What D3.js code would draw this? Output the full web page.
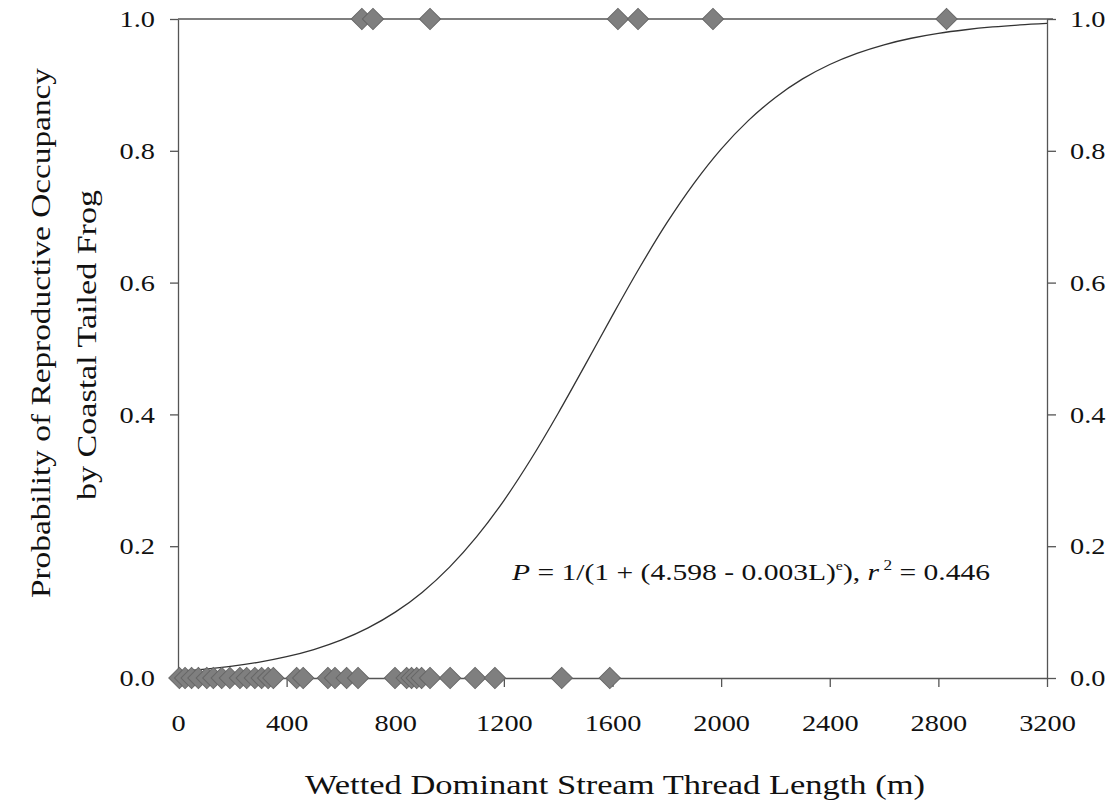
<!DOCTYPE html>
<html><head><meta charset="utf-8">
<script src="https://cdn.jsdelivr.net/npm/d3@7"></script>
<style>body{margin:0;background:#fff}svg{display:block}text{font-family:"Liberation Serif","DejaVu Serif",serif;fill:#111}</style>
</head><body><svg id="c" width="1118" height="805"></svg>
<script>
// Observed occupancy (1) sites, stream length in m
const presentL = [677, 718, 928, 1620, 1694, 1970, 2830];
// Observed non-occupancy (0) sites
const absentL = [5, 26, 50, 75, 106, 130, 161, 191, 228, 253, 283, 308, 332, 351, 437, 461, 552, 578, 621, 663, 799, 842, 860, 879, 897, 928, 1002, 1094, 1167, 1413, 1590];
// Fitted curve
const curveL = [0,100,200,300,400,500,600,700,800,900,1000,1100,1200,1300,1400,1500,1600,1700,1800,1900,2000,2100,2200,2300,2400,2500,2600,2700,2800,2900,3000,3100,3200];
const curveP = [0.010,0.0134,0.018,0.0242,0.0324,0.0432,0.0574,0.076,0.0999,0.1303,0.1683,0.2145,0.2693,0.3323,0.4018,0.4755,0.5503,0.6229,0.6905,0.7506,0.8026,0.8458,0.881,0.9091,0.931,0.9479,0.9609,0.9708,0.9782,0.9837,0.9879,0.991,0.9933];
const xTicks = [0,400,800,1200,1600,2000,2400,2800,3200];
const yTicks = [0,0.2,0.4,0.6,0.8,1.0];

const svg = d3.select("#c");
const L = 178, R = 1047, T = 19, B = 678;
const x = d3.scaleLinear().domain([0,3200]).range([L,R]);
const y = d3.scaleLinear().domain([0,1]).range([B,T]);
const axisCol = "#555";

function stretch(sel, f){
  sel.each(function(){
    const w = this.getComputedTextLength();
    d3.select(this).attr("textLength", w*f).attr("lengthAdjust","spacingAndGlyphs");
  });
}
function styleAxis(g){
  g.select(".domain").attr("stroke",axisCol).attr("stroke-width",1.3);
  g.selectAll(".tick line").attr("stroke",axisCol).attr("stroke-width",1.3);
  g.selectAll(".tick text").style("font-size","24px").attr("fill","#111");
  stretch(g.selectAll(".tick text"), 1.18);
}
// top line
svg.append("line").attr("x1",L).attr("x2",R+6).attr("y1",T).attr("y2",T).attr("stroke",axisCol).attr("stroke-width",1.3);

svg.append("g").attr("transform",`translate(0,${B})`)
  .call(d3.axisBottom(x).tickValues(xTicks).tickFormat(d3.format("d")).tickSize(9).tickSizeOuter(0).tickPadding(27))
  .call(styleAxis);
svg.append("g").attr("transform",`translate(${L},0)`)
  .call(d3.axisLeft(y).tickValues(yTicks).tickFormat(d3.format(".1f")).tickSize(8).tickSizeOuter(0).tickPadding(15))
  .call(styleAxis);
svg.append("g").attr("transform",`translate(${R},0)`)
  .call(d3.axisRight(y).tickValues(yTicks).tickFormat(d3.format(".1f")).tickSize(9).tickSizeOuter(0).tickPadding(14))
  .call(styleAxis);

// curve
const pts = curveL.map((l,i)=>[l,curveP[i]]);
svg.append("path").datum(pts)
  .attr("d", d3.line().x(d=>x(d[0])).y(d=>y(d[1])).curve(d3.curveMonotoneX))
  .attr("fill","none").attr("stroke","#333").attr("stroke-width",1.3);

// markers
const sym = d3.symbol().type(d3.symbolSquare).size(225)();
function markers(data, val){
  svg.append("g").selectAll("path").data(data).join("path")
    .attr("d", sym)
    .attr("transform", d=>`translate(${x(d)},${y(val)}) rotate(45)`)
    .attr("fill","#7f7f7f").attr("stroke","#666").attr("stroke-width",1);
}
markers(absentL, 0);
markers(presentL, 1);

// equation
const eq = svg.append("text").attr("x",512).attr("y",580).style("font-size","24px")
  .attr("textLength",478).attr("lengthAdjust","spacingAndGlyphs");
eq.append("tspan").style("font-style","italic").text("P");
eq.append("tspan").text(" = 1/(1 + (4.598 - 0.003L)");
eq.append("tspan").attr("dy",-10).style("font-size","13px").text("e");
eq.append("tspan").attr("dy",10).text("), ");
eq.append("tspan").style("font-style","italic").text("r");
eq.append("tspan").attr("dy",-10).style("font-size","14px").text(" 2");
eq.append("tspan").attr("dy",10).text(" = 0.446");

// axis titles
svg.append("text").attr("x",615).attr("y",794).attr("text-anchor","middle").style("font-size","27px")
  .attr("textLength",620).attr("lengthAdjust","spacingAndGlyphs")
  .text("Wetted Dominant Stream Thread Length (m)");
svg.append("text").attr("transform","translate(50,333) rotate(-90)").attr("text-anchor","middle").style("font-size","27px")
  .attr("textLength",530).attr("lengthAdjust","spacingAndGlyphs")
  .text("Probability of Reproductive Occupancy");
svg.append("text").attr("transform","translate(96,345) rotate(-90)").attr("text-anchor","middle").style("font-size","27px")
  .attr("textLength",310).attr("lengthAdjust","spacingAndGlyphs")
  .text("by Coastal Tailed Frog");
</script></body></html>
